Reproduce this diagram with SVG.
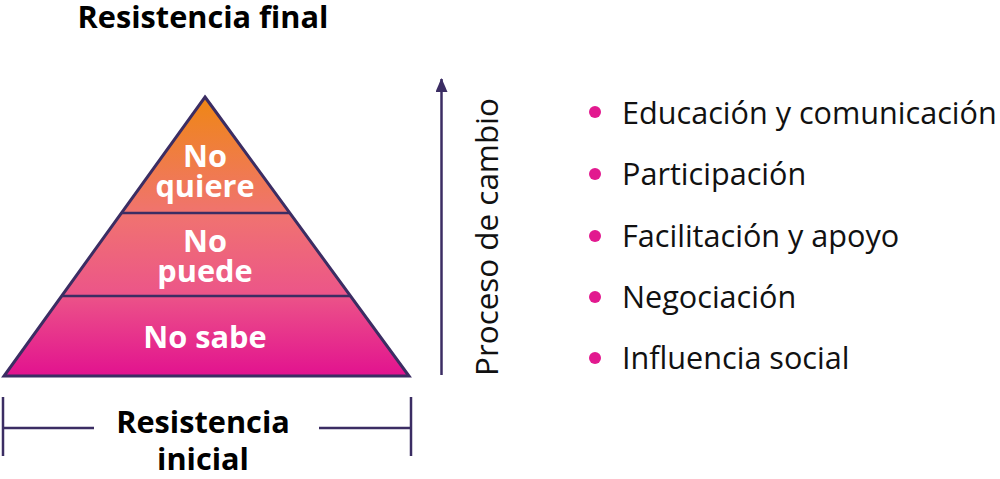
<svg xmlns="http://www.w3.org/2000/svg" width="1000" height="479" viewBox="0 0 1000 479">
<defs>
<linearGradient id="pg" x1="0" y1="97" x2="0" y2="376" gradientUnits="userSpaceOnUse">
<stop offset="0" stop-color="#EF8714"/>
<stop offset="0.42" stop-color="#F07370"/>
<stop offset="0.7" stop-color="#EC5688"/>
<stop offset="1" stop-color="#E2128F"/>
</linearGradient>
<marker id="ah" viewBox="0 0 14 12" refX="13" refY="6" markerWidth="14" markerHeight="12" markerUnits="userSpaceOnUse" orient="auto">
<path d="M0,0 L14,6 L0,12 Z" fill="#3B2D63"/>
</marker>
</defs>
<style>
.ln{stroke:#3B2D63;stroke-width:2.5;fill:none}
.pt{font-family:"Open Sans",sans-serif;font-weight:700;font-size:30.7px;fill:#fff;text-anchor:middle}
.bt{font-family:"Open Sans",sans-serif;font-weight:700;font-size:30.7px;fill:#000;text-anchor:middle}
.li{font-family:"Open Sans",sans-serif;font-size:30.6px;fill:#111}
.dot{fill:#E2198F}
</style>
<g id="pyramid">
<polygon points="205,97 409,376 4,376" fill="url(#pg)" stroke="#3B2D63" stroke-width="3" stroke-linejoin="miter"/>
<line class="ln" x1="122" y1="213" x2="289" y2="213"/>
<line class="ln" x1="61" y1="296" x2="350" y2="296"/>
</g>
<g id="level-top">
<text class="pt" x="205" y="167">No</text>
<text class="pt" x="205" y="197">quiere</text>
</g>
<g id="level-mid">
<text class="pt" x="205" y="252">No</text>
<text class="pt" x="205" y="282">puede</text>
</g>
<g id="level-bottom">
<text class="pt" x="205" y="348">No sabe</text>
</g>
<g id="title-final">
<text class="bt" x="203" y="28">Resistencia final</text>
</g>
<g id="title-initial">
<text class="bt" x="203" y="433">Resistencia</text>
<text class="bt" x="203" y="470">inicial</text>
</g>
<g id="connectors">
<line class="ln" x1="3" y1="397" x2="3" y2="456"/>
<line class="ln" x1="411" y1="397" x2="411" y2="456"/>
<line class="ln" x1="3" y1="428" x2="94" y2="428"/>
<line class="ln" x1="319" y1="428" x2="411" y2="428"/>
<line class="ln" x1="441.5" y1="375" x2="441.5" y2="79" marker-end="url(#ah)"/>
</g>
<g id="process-label">
<text class="li" font-size="31.4" style="font-size:31.4px" transform="translate(498,237) rotate(-90)" text-anchor="middle" x="0" y="0">Proceso de cambio</text>
</g>
<g id="list">
<circle class="dot" cx="595" cy="112" r="6"/>
<text class="li" x="622" y="124">Educación y comunicación</text>
<circle class="dot" cx="595" cy="174" r="6"/>
<text class="li" x="622" y="185">Participación</text>
<circle class="dot" cx="595" cy="236" r="6"/>
<text class="li" x="622" y="247">Facilitación y apoyo</text>
<circle class="dot" cx="595" cy="297" r="6"/>
<text class="li" x="622" y="308">Negociación</text>
<circle class="dot" cx="595" cy="358" r="6"/>
<text class="li" x="622" y="369">Influencia social</text>
</g>
</svg>
